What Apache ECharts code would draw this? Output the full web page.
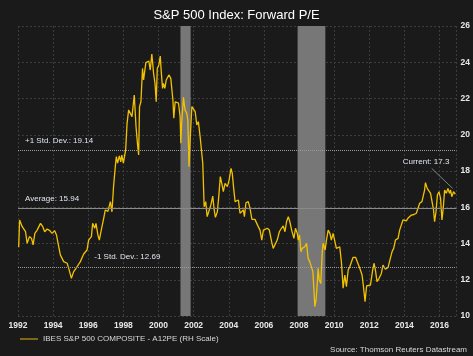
<!DOCTYPE html>
<html><head><meta charset="utf-8">
<script src="https://cdn.jsdelivr.net/npm/echarts@6/dist/echarts.min.js"></script>
<style>html,body{margin:0;padding:0;background:#1a1a1a;}#c{width:473px;height:356px;}</style>
</head><body><div id="c"></div>
<script>
const titleText = 'S&P 500 Index: Forward P/E';
const seriesName = 'IBES S&P 500 COMPOSITE - A12PE (RH Scale)';
const sourceText = 'Source: Thomson Reuters Datastream';
const yTicks = [10, 12, 14, 16, 18, 20, 22, 24, 26];
const xTicks = [1992, 1994, 1996, 1998, 2000, 2002, 2004, 2006, 2008, 2010, 2012, 2014, 2016];
const recessions = [[2001.25, 2001.83], [2007.92, 2009.5]];
const refLines = [
  {name: '+1 Std. Dev.', value: 19.14},
  {name: 'Average', value: 15.94},
  {name: '-1 Std. Dev.', value: 12.69}
];
const currentValue = 17.3;
const years = [
1992.04,1992.09,1992.24,1992.43,1992.52,1992.65,1992.77,1992.86,1992.96,1993.09,1993.28,1993.41,1993.52,1993.66,1993.81,1993.94,
1994.09,1994.19,1994.32,1994.41,1994.51,1994.60,1994.70,1994.80,1994.89,1995.04,1995.17,1995.27,1995.37,1995.55,1995.74,1995.93,
1996.02,1996.18,1996.25,1996.37,1996.44,1996.55,1996.63,1996.74,1996.88,1996.97,1997.12,1997.26,1997.35,1997.44,1997.54,1997.60,
1997.67,1997.77,1997.85,1997.91,1998.00,1998.13,1998.21,1998.30,1998.39,1998.49,1998.55,1998.62,1998.72,1998.81,1998.87,1998.92,
1999.00,1999.09,1999.15,1999.20,1999.28,1999.37,1999.45,1999.53,1999.62,1999.72,1999.80,1999.87,1999.93,2000.02,2000.10,2000.15,
2000.23,2000.28,2000.36,2000.44,2000.51,2000.59,2000.70,2000.76,2000.82,2000.87,2000.95,2001.04,2001.14,2001.23,2001.27,2001.32,
2001.42,2001.51,2001.61,2001.67,2001.74,2001.80,2001.90,2001.99,2002.09,2002.18,2002.27,2002.37,2002.52,2002.60,2002.69,2002.77,
2002.86,2002.98,2003.09,2003.17,2003.24,2003.35,2003.43,2003.52,2003.62,2003.69,2003.79,2003.92,2004.02,2004.13,2004.20,2004.28,
2004.36,2004.45,2004.55,2004.64,2004.74,2004.83,2004.89,2004.98,2005.11,2005.21,2005.32,2005.49,2005.59,2005.68,2005.78,2005.88,
2005.97,2006.06,2006.19,2006.31,2006.44,2006.53,2006.64,2006.76,2006.88,2007.00,2007.10,2007.20,2007.29,2007.39,2007.48,2007.58,
2007.71,2007.80,2007.90,2007.96,2008.03,2008.11,2008.18,2008.26,2008.33,2008.43,2008.52,2008.61,2008.71,2008.79,2008.85,2008.90,
2008.97,2009.04,2009.09,2009.15,2009.24,2009.32,2009.37,2009.44,2009.49,2009.55,2009.66,2009.76,2009.84,2009.94,2010.04,2010.13,
2010.23,2010.32,2010.42,2010.51,2010.61,2010.70,2010.80,2010.89,2010.99,2011.08,2011.22,2011.33,2011.46,2011.59,2011.67,2011.76,
2011.85,2011.93,2012.07,2012.18,2012.27,2012.35,2012.44,2012.56,2012.69,2012.78,2012.92,2013.07,2013.20,2013.30,2013.39,2013.49,
2013.58,2013.64,2013.73,2013.83,2013.92,2014.02,2014.11,2014.20,2014.30,2014.40,2014.55,2014.68,2014.77,2014.87,2015.00,2015.11,
2015.15,2015.20,2015.30,2015.39,2015.49,2015.59,2015.66,2015.72,2015.80,2015.88,2015.97,2016.06,2016.14,2016.22,2016.29,2016.39,
2016.48,2016.57,2016.63,2016.70,2016.80,2016.90
];
const values = [
13.80,15.30,14.93,14.65,14.01,14.38,14.28,13.92,14.56,14.74,15.11,14.93,14.65,14.80,14.71,14.56,
14.70,14.47,13.82,13.37,13.18,13.00,13.09,12.91,12.63,12.08,12.45,12.58,12.63,13.00,13.42,13.64,
14.19,14.38,15.11,14.84,15.11,14.47,14.19,14.74,15.39,15.85,15.77,16.31,15.75,17.13,18.24,18.79,
18.43,18.83,18.50,18.88,18.43,19.16,20.63,21.37,21.46,21.00,21.55,22.19,20.44,19.43,18.88,21.55,
21.82,23.66,23.02,23.40,23.98,23.90,24.07,23.57,24.45,23.39,22.84,21.82,23.66,23.85,24.34,23.57,
22.56,22.83,22.56,23.02,22.93,23.30,23.11,23.02,21.92,20.91,21.82,21.92,21.74,21.00,19.53,20.63,
22.06,21.37,21.18,20.80,18.24,19.71,21.55,21.64,21.27,20.54,20.72,19.89,18.43,16.03,16.31,15.48,
15.75,16.12,16.62,15.85,15.44,15.75,16.58,17.69,17.23,16.86,17.32,17.14,17.50,18.15,17.87,17.04,
16.31,16.22,16.40,15.67,15.57,15.85,15.48,16.25,16.31,15.94,15.33,15.33,15.30,14.93,14.74,14.19,
14.74,14.76,14.84,14.74,14.10,13.73,13.83,14.19,14.65,14.84,14.97,14.65,15.20,15.48,15.20,14.74,
14.28,14.84,14.56,14.19,14.47,13.55,13.73,13.64,13.82,14.01,13.18,13.00,13.00,12.45,11.43,10.51,
10.88,11.80,12.63,11.99,11.80,13.46,14.01,14.10,13.64,14.10,14.74,14.56,14.19,14.56,14.60,13.73,
13.64,13.82,12.91,11.53,12.26,11.62,12.54,12.72,12.72,13.24,13.24,13.18,12.63,12.26,11.62,10.79,
11.66,11.62,11.71,12.45,12.91,12.54,11.90,12.08,12.35,12.81,12.58,12.68,13.18,13.55,13.73,14.19,
14.10,14.28,14.74,14.84,15.30,15.20,15.25,15.39,15.48,15.57,15.60,15.67,15.75,16.22,16.31,16.31,
16.95,17.36,17.04,17.13,16.77,16.86,15.85,15.20,15.75,16.68,16.86,16.49,15.30,16.03,16.95,16.77,
17.04,16.77,16.95,16.58,16.86,16.72
];

const chart = echarts.init(document.getElementById('c'), null, {renderer: 'canvas'});
const data = years.map((y, i) => [y, values[i]]);
const font = 'Liberation Sans, Arial, sans-serif';
const labelFmt = {
  '+1 Std. Dev.': v => '+1 Std. Dev.: ' + v.toFixed(2),
  'Average': v => 'Average: ' + v.toFixed(2),
  '-1 Std. Dev.': v => '-1 Std. Dev.: ' + v.toFixed(2)
};
chart.setOption({
  backgroundColor: '#1a1a1a',
  animation: false,
  title: {text: titleText, left: 'center', top: 4,
    textStyle: {color: '#ffffff', fontSize: 13, fontWeight: 'normal', fontFamily: font}},
  grid: {left: 18, right: 15, top: 26, bottom: 40, containLabel: false},
  xAxis: {type: 'value', min: 1992, max: 2016.97, interval: 2,
    axisLine: {show: false}, axisTick: {show: false},
    splitLine: {show: true, lineStyle: {color: '#3c3c3c', type: [2, 2], width: 1}},
    axisLabel: {color: '#e8e8e8', fontSize: 8.5, fontWeight: 'bold', fontFamily: font, margin: 5,
      showMaxLabel: false, formatter: v => xTicks.indexOf(v) >= 0 ? String(v) : ''}},
  yAxis: {type: 'value', position: 'right', min: yTicks[0], max: yTicks[yTicks.length - 1], interval: 2,
    axisLine: {show: false}, axisTick: {show: false},
    splitLine: {show: true, lineStyle: {color: '#3c3c3c', type: [2, 2], width: 1}},
    axisLabel: {color: '#e8e8e8', fontSize: 8.5, fontWeight: 'bold', fontFamily: font, margin: 4}},
  series: [
    {type: 'line', data: [], z: 1, silent: true,
      markArea: {silent: true, itemStyle: {color: '#777777', opacity: 1},
        data: recessions.map(r => [{xAxis: r[0]}, {xAxis: r[1]}])}},
    {type: 'line', data: [], z: 2, silent: true,
      markLine: {silent: true, symbol: 'none', label: {show: false},
        data: refLines.map(r => ({yAxis: r.value,
          lineStyle: {color: r.name === 'Average' ? '#8a8a8a' : '#9a9a9a', width: 1,
            type: r.name === 'Average' ? 'solid' : [1, 1]}}))}},
    {name: seriesName, type: 'line', data: data, z: 3, showSymbol: false, symbol: 'none',
      lineStyle: {color: '#f2c200', width: 1.3}, itemStyle: {color: '#a88a10'}}
  ],
  legend: {show: true, left: 15, bottom: 8, itemWidth: 18, itemHeight: 8, itemGap: 4,
    textStyle: {color: '#d8d8d8', fontSize: 8, fontFamily: font},
    data: [{name: seriesName, icon: 'path://M0,3.4L18,3.4L18,4.8L0,4.8Z', itemStyle: {color: '#a88a10'}}]}
});

const gfx = [];
const lblFont = '8px ' + font;
const p1 = chart.convertToPixel({gridIndex: 0}, [1992, refLines[0].value]);
gfx.push({type: 'text', left: p1[0] + 7, top: p1[1] - 14,
  style: {text: labelFmt[refLines[0].name](refLines[0].value), fill: '#dfe6ee', font: lblFont}});
const p2 = chart.convertToPixel({gridIndex: 0}, [1992, refLines[1].value]);
gfx.push({type: 'text', left: p2[0] + 7, top: p2[1] - 14,
  style: {text: labelFmt[refLines[1].name](refLines[1].value), fill: '#dfe6ee', font: lblFont}});
const p3 = chart.convertToPixel({gridIndex: 0}, [1996, refLines[2].value]);
gfx.push({type: 'text', left: p3[0] + 6, top: p3[1] - 14,
  style: {text: labelFmt[refLines[2].name](refLines[2].value), fill: '#dfe6ee', font: lblFont}});
const last = data[data.length - 1];
const pe = chart.convertToPixel({gridIndex: 0}, [last[0] - 0.15, last[1] + 0.32]);
gfx.push({type: 'line', shape: {x1: pe[0] - 21, y1: pe[1] - 20, x2: pe[0], y2: pe[1]},
  style: {stroke: '#9a9a9a', lineWidth: 0.8}});
gfx.push({type: 'text', left: pe[0] - 50, top: pe[1] - 31,
  style: {text: 'Current: ' + currentValue, fill: '#dfe6ee', font: lblFont}});
gfx.push({type: 'text', right: 6, bottom: 2,
  style: {text: sourceText, fill: '#d8d8d8', font: '8px ' + font}});
chart.setOption({graphic: gfx});
</script>
</body></html>
